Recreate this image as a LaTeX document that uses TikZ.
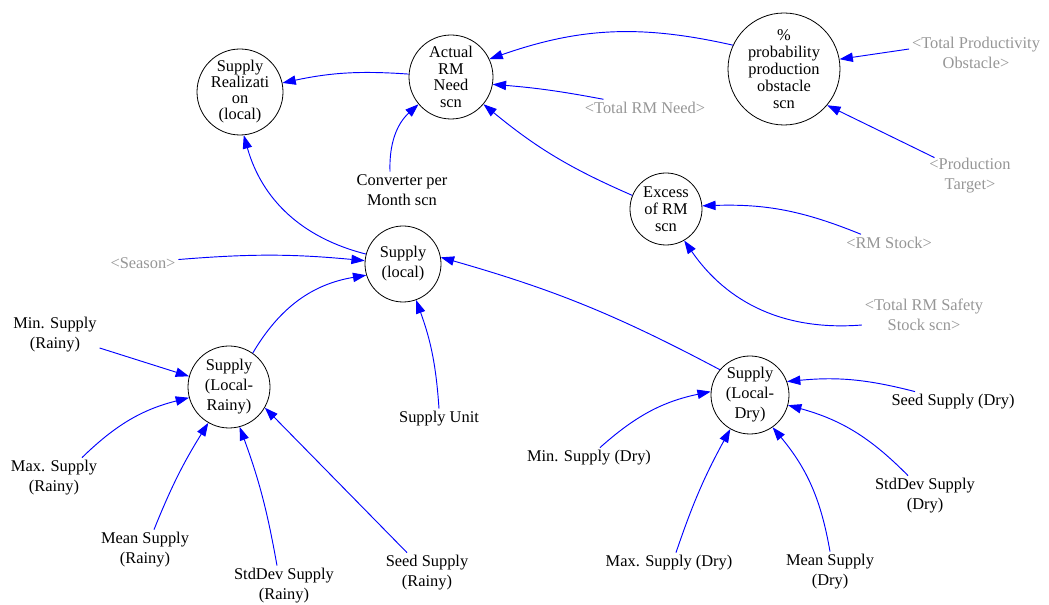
\documentclass[tikz,border=0pt]{standalone}
\usepackage{fontspec}
\setmainfont{Liberation Serif}
\usetikzlibrary{arrows.meta}
\newcommand\lblfont[1]{\fontsize{12.3}{#1}\selectfont}
\definecolor{shadowgray}{RGB}{150,150,150}
\begin{document}
\begin{tikzpicture}[x=0.75pt,y=-0.75pt,
  var/.style={circle,draw=black,line width=0.6pt,inner sep=0pt,align=center},
  lbl/.style={align=center,inner sep=2pt,font=\lblfont{15}},
  shadow/.style={lbl,text=shadowgray},
  link/.style={draw=blue,line width=0.7pt,-{Triangle[length=10pt,width=7pt]}}]
\useasboundingbox (0,0) rectangle (1049,605);

% auxiliary variables
\node[var,minimum size=64.5pt,font=\lblfont{12}] (sr) at (240,92) {Supply\\Realizati\\on\\(local)};
\node[var,minimum size=63pt,font=\lblfont{12.5}] (arm) at (451,77) {Actual\\RM\\Need\\scn};
\node[var,minimum size=84pt,font=\lblfont{12.75}] (ppo) at (784,69) {\%\\probability\\production\\obstacle\\scn};
\node[var,minimum size=54pt,font=\lblfont{12.75}] (ex) at (666,209) {Excess\\of RM\\scn};
\node[var,minimum size=57pt,font=\lblfont{15}] (sl) at (403,264) {Supply\\(local)};
\node[var,minimum size=61.5pt,font=\lblfont{15}] (slr) at (229,387) {Supply\\(Local-\\Rainy)};
\node[var,minimum size=58.5pt,font=\lblfont{15}] (sld) at (750,395) {Supply\\(Local-\\Dry)};

% shadow variables
\node[shadow] (trn) at (645,108) {<Total RM Need>};
\node[shadow] (tpo) at (976,53) {<Total Productivity\\Obstacle>};
\node[shadow] (pt) at (970,176) {<Production\\Target>};
\node[shadow] (rms) at (889,243) {<RM Stock>};
\node[shadow] (trss) at (924,315) {<Total RM Safety\\Stock scn>};
\node[shadow] (sea) at (143,263) {<Season>};

% constants
\node[lbl] (cpm) at (402,190) {Converter per\\Month scn};
\node[lbl] (su) at (439,419) {Supply Unit};
\node[lbl] (minr) at (55,335) {Min. Supply\\(Rainy)};
\node[lbl] (maxr) at (54,478) {Max. Supply\\(Rainy)};
\node[lbl] (meanr) at (145,550) {Mean Supply\\(Rainy)};
\node[lbl] (sdr) at (284,586) {StdDev Supply\\(Rainy)};
\node[lbl] (seedr) at (427,573) {Seed Supply\\(Rainy)};
\node[lbl] (mind) at (589,458) {Min. Supply (Dry)};
\node[lbl] (maxd) at (669,563) {Max. Supply (Dry)};
\node[lbl] (meand) at (830,572) {Mean Supply\\(Dry)};
\node[lbl] (sdd) at (925,496) {StdDev Supply\\(Dry)};
\node[lbl] (seedd) at (953,402) {Seed Supply (Dry)};

% causal links
\draw[link] (arm) to[bend right=8] (sr);
\draw[link] (ppo.155) to[bend right=16] (arm.25);
\draw[link] (trn) to[bend right=3] (arm.-10);
\draw[link] (ex.158) to[bend left=8] (arm.-40);
\draw[link] (cpm.north) ++(-12,0) to[bend left=25] (arm.-140);
\draw[link] (sl.165) to[bend left=30] (sr.-85);
\draw[link] (tpo.west |- 0,49) to (ppo.10);
\draw[link] (pt.north west) ++(8,2) to (ppo.-40);
\draw[link] (rms.north) ++(-28,0) to[bend right=12] (ex.5);
\draw[link] (trss.west) ++(0,10) to[bend left=30] (ex.-60);
\draw[link] (sea) to[bend left=5] (sl.175);
\draw[link] (slr.55) to[bend left=25] (sl.197);
\draw[link] (su.north) to[bend right=8] (sl.-70);
\draw[link] (sld.140) to[bend right=6] (sl.10);
\draw[link] (minr.east) ++(0,13) to (slr.165);
\draw[link] (maxr.north) ++(28,0) to[bend left=15] (slr.195);
\draw[link] (meanr.north) ++(9,0) to[bend left=5] (slr.-120);
\draw[link] (sdr.north) ++(-7,0) to[bend right=5] (slr.-75);
\draw[link] (seedr.north) ++(-20,0) to (slr.-30);
\draw[link] (mind.north) ++(11,0) to[bend left=15] (sld.175);
\draw[link] (maxd.north) ++(7,0) to[bend left=5] (sld.-120);
\draw[link] (meand.north) to[bend right=15] (sld.-55);
\draw[link] (sdd.north) ++(-17,0) to[bend right=15] (sld.-15);
\draw[link] (seedd.north) ++(-38,0) to[bend right=10] (sld.20);
\end{tikzpicture}
\end{document}
